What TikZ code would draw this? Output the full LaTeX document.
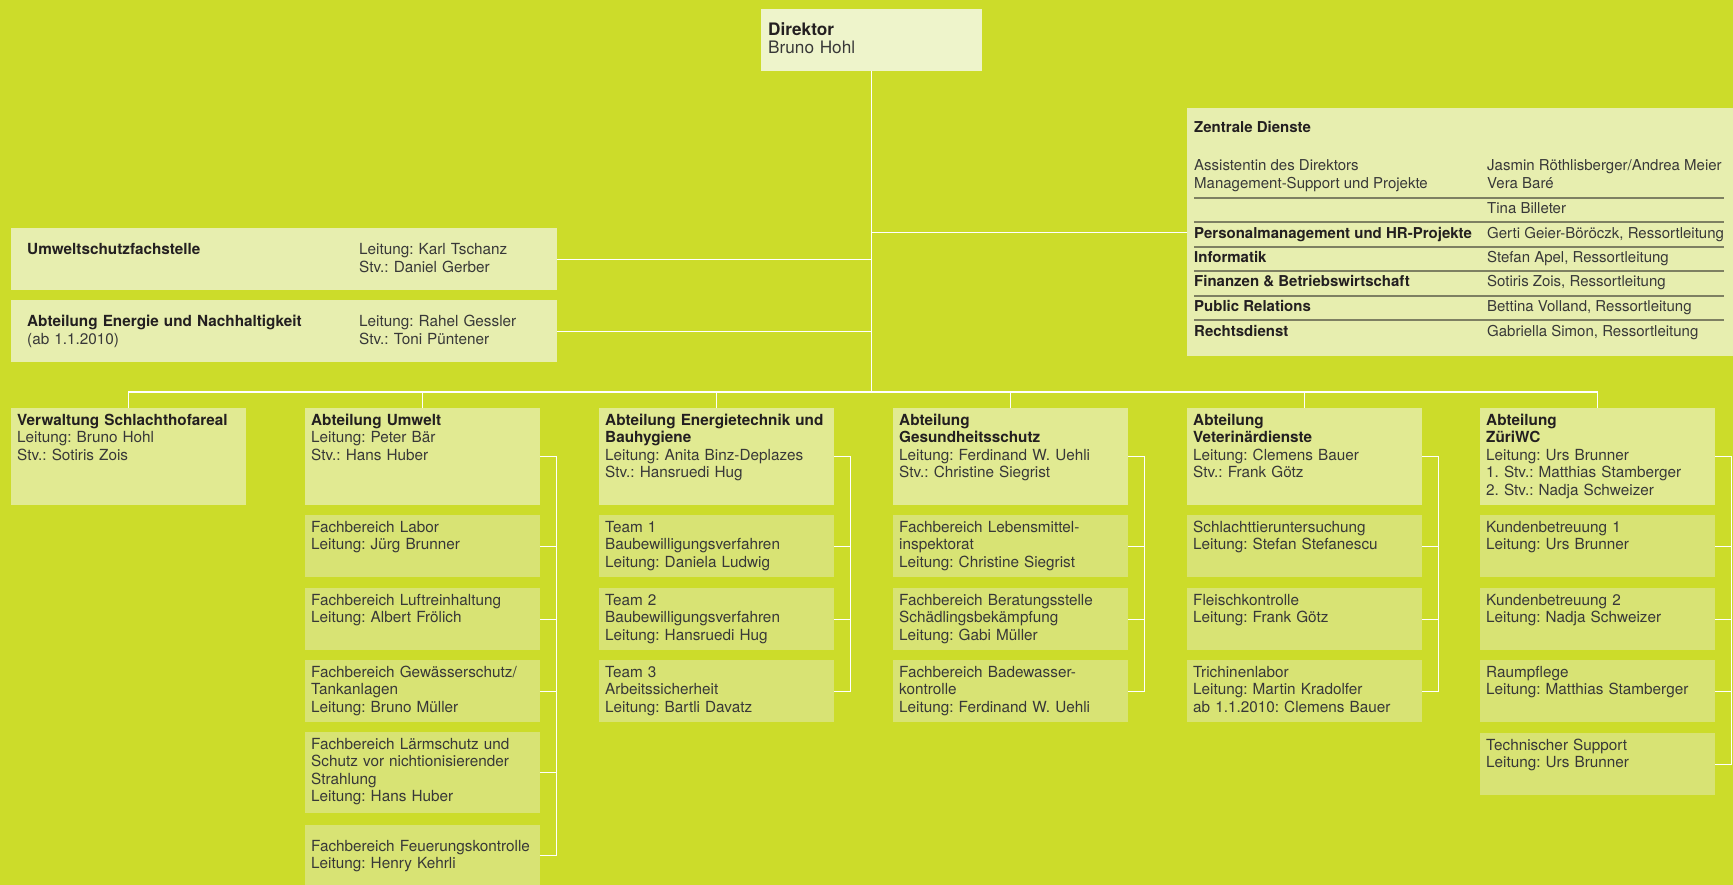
\documentclass[tikz,border=0pt]{standalone}
\usepackage{fontspec}
\setmainfont{TeX Gyre Heros}
\usetikzlibrary{calc}
\definecolor{bg}{HTML}{CCDC2A}
\definecolor{dircol}{HTML}{EEF4CB}
\definecolor{zcol}{HTML}{E7EEAF}
\definecolor{headcol}{HTML}{E1EA92}
\definecolor{subcol}{HTML}{D8E374}
\definecolor{rulecol}{HTML}{7E8062}
\definecolor{txt}{HTML}{383838}
\definecolor{ttlcol}{HTML}{231F20}
\newcommand\boldttl[1]{{\color{ttlcol}\bfseries #1}}
\frenchspacing
\begin{document}
\frenchspacing
\begin{tikzpicture}[x=1pt,y=-1pt,
  every node/.style={font=\frenchspacing\fontsize{15.3pt}{17.5pt}\selectfont, text=txt},
  conn/.style={draw=white, line width=1.3pt},
  rulestyle/.style={draw=rulecol, line width=1.2pt},
  box/.style={anchor=north west, inner xsep=6pt, inner ysep=0pt, align=left, text width=223pt, text height=17pt},
  headbox/.style={box, fill=headcol, text depth=80pt},
  subbox/.style={box, fill=subcol, text depth=45pt},
  wide/.style={anchor=north west, inner xsep=16pt, inner ysep=0pt, align=left, text width=514pt, text height=26pt, text depth=36pt, fill=zcol, font=\frenchspacing\fontsize{15.3pt}{18pt}\selectfont},
  col/.style={anchor=north west, inner sep=0pt, align=left, text width=190pt, text height=26pt, font=\frenchspacing\fontsize{15.3pt}{18pt}\selectfont},
  zl/.style={anchor=base west, inner sep=0pt, font=\frenchspacing\fontsize{15pt}{17.5pt}\selectfont}
]
\useasboundingbox (0,0) rectangle (1733,885);
\fill[bg] (0,0) rectangle (1733,885);

% Director
\node[anchor=north west, fill=dircol, inner xsep=7pt, inner ysep=0pt, align=left, text width=207pt, text height=26pt, text depth=36pt, font=\fontsize{17.2pt}{18pt}\selectfont] (dir) at (761,9) {\boldttl{Direktor}\\Bruno Hohl};
\coordinate (busy) at (0,392);

% Staff boxes left
\node[wide] (usf) at (11,228) {\boldttl{Umweltschutzfachstelle}};
\node[col] (usfR) at (359,228) {Leitung: Karl Tschanz\\Stv.: Daniel Gerber};
\node[wide] (aen) at (11,300) {\boldttl{Abteilung Energie und Nachhaltigkeit}\\(ab 1.1.2010)};
\node[col] (aenR) at (359,300) {Leitung: Rahel Gessler\\Stv.: Toni Püntener};

% Zentrale Dienste
\node[anchor=north west, fill=zcol, minimum width=546pt, minimum height=248pt, inner sep=0pt] (zd) at (1187,108) {};
\node[zl] (zt) at (1194,133) {\boldttl{Zentrale Dienste}};
\node[zl] (za1) at (1194,171) {Assistentin des Direktors};
\node[zl] (zb1) at (1487,171) {Jasmin Röthlisberger/Andrea Meier};
\node[zl] (za2) at (1194,189) {Management-Support und Projekte};
\node[zl] (zb2) at (1487,189) {Vera Baré};
\node[zl] (zb3) at (1487,214) {Tina Billeter};
\node[zl] (za4) at (1194,239) {\boldttl{Personalmanagement und HR-Projekte}};
\node[zl] (zb4) at (1487,239) {Gerti Geier-Böröczk, Ressortleitung};
\node[zl] (za5) at (1194,263) {\boldttl{Informatik}};
\node[zl] (zb5) at (1487,263) {Stefan Apel, Ressortleitung};
\node[zl] (za6) at (1194,287) {\boldttl{Finanzen \& Betriebswirtschaft}};
\node[zl] (zb6) at (1487,287) {Sotiris Zois, Ressortleitung};
\node[zl] (za7) at (1194,312) {\boldttl{Public Relations}};
\node[zl] (zb7) at (1487,312) {Bettina Volland, Ressortleitung};
\node[zl] (za8) at (1194,337) {\boldttl{Rechtsdienst}};
\node[zl] (zb8) at (1487,337) {Gabriella Simon, Ressortleitung};
\foreach \yy in {198,222,247,271,296,320} \draw[rulestyle] (1194,\yy) -- (1724,\yy);

% Column 1
\node[headbox] (h1) at (11,408) {\boldttl{Verwaltung Schlachthofareal}\\Leitung: Bruno Hohl\\Stv.: Sotiris Zois};

% Column 2
\node[headbox] (h2) at (305,408) {\boldttl{Abteilung Umwelt}\\Leitung: Peter Bär\\Stv.: Hans Huber};
\node[subbox] (s21) at (305,515) {Fachbereich Labor\\Leitung: Jürg Brunner};
\node[subbox] (s22) at (305,588) {Fachbereich Luftreinhaltung\\Leitung: Albert Frölich};
\node[subbox] (s23) at (305,660) {Fachbereich Gewässerschutz/\\Tankanlagen\\Leitung: Bruno Müller};
\node[subbox, text depth=64pt] (s24) at (305,732) {Fachbereich Lärmschutz und\\Schutz vor nichtionisierender\\Strahlung\\Leitung: Hans Huber};
\node[subbox, text height=26pt, text depth=34pt] (s25) at (305,825) {Fachbereich Feuerungskontrolle\\Leitung: Henry Kehrli};

% Column 3
\node[headbox] (h3) at (599,408) {\boldttl{Abteilung Energietechnik und}\\\boldttl{Bauhygiene}\\Leitung: Anita Binz-Deplazes\\Stv.: Hansruedi Hug};
\node[subbox] (s31) at (599,515) {Team 1\\Baubewilligungsverfahren\\Leitung: Daniela Ludwig};
\node[subbox] (s32) at (599,588) {Team 2\\Baubewilligungsverfahren\\Leitung: Hansruedi Hug};
\node[subbox] (s33) at (599,660) {Team 3\\Arbeitssicherheit\\Leitung: Bartli Davatz};

% Column 4
\node[headbox] (h4) at (893,408) {\boldttl{Abteilung}\\\boldttl{Gesundheitsschutz}\\Leitung: Ferdinand W. Uehli\\Stv.: Christine Siegrist};
\node[subbox] (s41) at (893,515) {Fachbereich Lebensmittel-\\inspektorat\\Leitung: Christine Siegrist};
\node[subbox] (s42) at (893,588) {Fachbereich Beratungsstelle\\Schädlingsbekämpfung\\Leitung: Gabi Müller};
\node[subbox] (s43) at (893,660) {Fachbereich Badewasser-\\kontrolle\\Leitung: Ferdinand W. Uehli};

% Column 5
\node[headbox] (h5) at (1187,408) {\boldttl{Abteilung}\\\boldttl{Veterinärdienste}\\Leitung: Clemens Bauer\\Stv.: Frank Götz};
\node[subbox] (s51) at (1187,515) {Schlachttieruntersuchung\\Leitung: Stefan Stefanescu};
\node[subbox] (s52) at (1187,588) {Fleischkontrolle\\Leitung: Frank Götz};
\node[subbox] (s53) at (1187,660) {Trichinenlabor\\Leitung: Martin Kradolfer\\ab 1.1.2010: Clemens Bauer};

% Column 6
\node[headbox] (h6) at (1480,408) {\boldttl{Abteilung}\\\boldttl{ZüriWC}\\Leitung: Urs Brunner\\1. Stv.: Matthias Stamberger\\2. Stv.: Nadja Schweizer};
\node[subbox] (s61) at (1480,515) {Kundenbetreuung 1\\Leitung: Urs Brunner};
\node[subbox] (s62) at (1480,588) {Kundenbetreuung 2\\Leitung: Nadja Schweizer};
\node[subbox] (s63) at (1480,660) {Raumpflege\\Leitung: Matthias Stamberger};
\node[subbox] (s64) at (1480,733) {Technischer Support\\Leitung: Urs Brunner};

% Connectors
\draw[conn] (dir.south) -- (dir.south |- busy);
\draw[conn] (h1.north) -- (h1.north |- busy) -- (h6.north |- busy) -- (h6.north);
\foreach \n in {h2,h3,h4,h5} \draw[conn] (\n.north) -- (\n.north |- busy);
\draw[conn] (usf.east) -- (usf.east -| dir.south);
\draw[conn] (aen.east) -- (aen.east -| dir.south);
\draw[conn] (zd.west) -- (zd.west -| dir.south);

% Brackets
\coordinate (b2) at ($(h2.east)+(16,0)$);
\draw[conn] (h2.east) -- (b2) -- (b2 |- s25.east) -- (s25.east);
\foreach \n in {s21,s22,s23,s24} \draw[conn] (\n.east) -- (\n.east -| b2);
\coordinate (b3) at ($(h3.east)+(16,0)$);
\draw[conn] (h3.east) -- (b3) -- (b3 |- s33.east) -- (s33.east);
\foreach \n in {s31,s32} \draw[conn] (\n.east) -- (\n.east -| b3);
\coordinate (b4) at ($(h4.east)+(16,0)$);
\draw[conn] (h4.east) -- (b4) -- (b4 |- s43.east) -- (s43.east);
\foreach \n in {s41,s42} \draw[conn] (\n.east) -- (\n.east -| b4);
\coordinate (b5) at ($(h5.east)+(16,0)$);
\draw[conn] (h5.east) -- (b5) -- (b5 |- s53.east) -- (s53.east);
\foreach \n in {s51,s52} \draw[conn] (\n.east) -- (\n.east -| b5);
\coordinate (b6) at ($(h6.east)+(16,0)$);
\draw[conn] (h6.east) -- (b6) -- (b6 |- s64.east) -- (s64.east);
\foreach \n in {s61,s62,s63} \draw[conn] (\n.east) -- (\n.east -| b6);
\end{tikzpicture}
\end{document}
